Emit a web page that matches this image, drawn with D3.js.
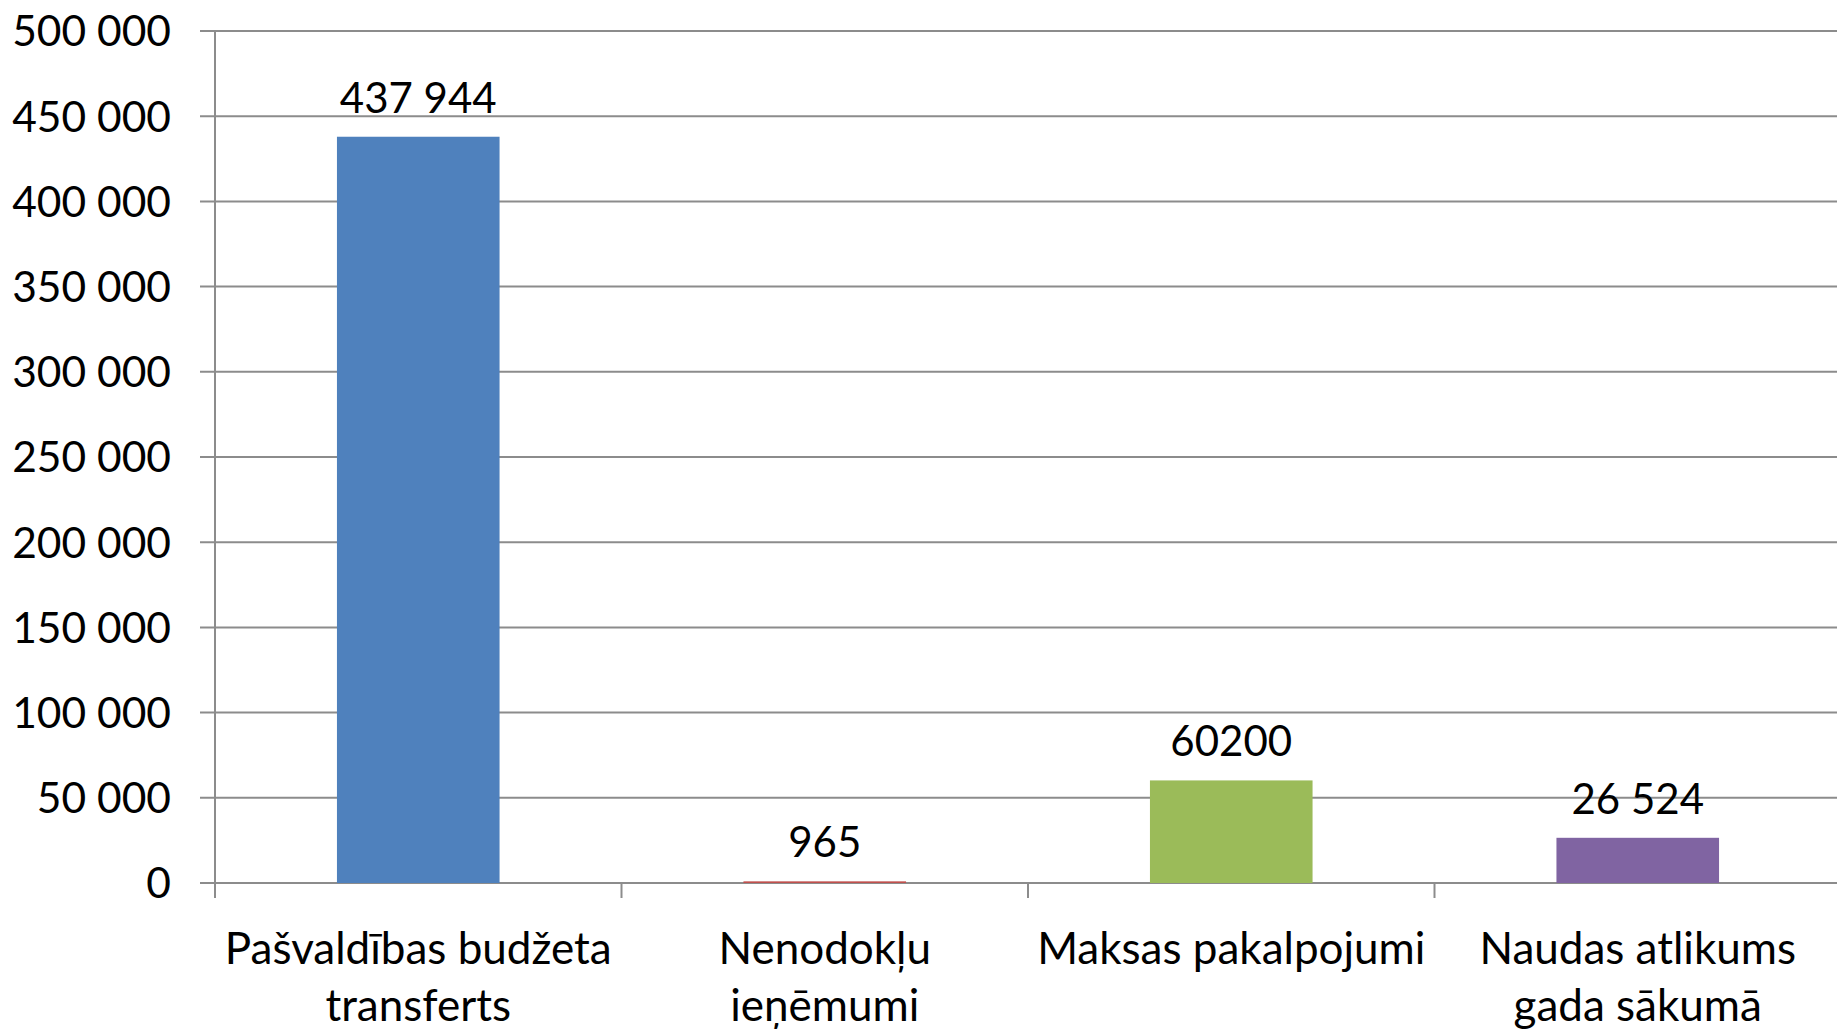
<!DOCTYPE html>
<html>
<head>
<meta charset="utf-8">
<script src="https://cdn.jsdelivr.net/npm/d3@7"></script>
<style>
  body { margin: 0; background: #fff; overflow: hidden; }
  text { font-family: Lato, "Open Sans", sans-serif; fill: #000; }
</style>
</head>
<body>
<script>
var categories = [["Pašvaldības budžeta", "transferts"], ["Nenodokļu", "ieņēmumi"], ["Maksas pakalpojumi"], ["Naudas atlikums", "gada sākumā"]];
var values = [437944, 965, 60200, 26524];
var valueLabels = ["437 944", "965", "60200", "26 524"];
var colors = ["#4F81BD", "#C0504D", "#9BBB59", "#8064A2"];
var yTicks = [0, 50000, 100000, 150000, 200000, 250000, 300000, 350000, 400000, 450000, 500000];

var width = 1837, height = 1029;
var x0 = 215, x1 = 1841, yTop = 31, yZero = 883;

var svg = d3.select("body").append("svg")
    .attr("width", width)
    .attr("height", height);

var x = d3.scaleBand()
    .domain(d3.range(values.length))
    .range([x0, x1])
    .paddingInner(0.6)
    .paddingOuter(0.3);

var y = d3.scaleLinear()
    .domain([0, 500000])
    .range([yZero, yTop]);

var fmt = function(v){ return d3.format(",")(v).replace(/,/g, " "); };

// gridlines
svg.append("g").selectAll("line").data(yTicks).enter().append("line")
    .attr("x1", x0 - 15).attr("x2", width)
    .attr("y1", function(d){ return y(d); })
    .attr("y2", function(d){ return y(d); })
    .attr("stroke", "#8c8c8c")
    .attr("stroke-width", 2);

// y axis line
svg.append("line")
    .attr("x1", x0).attr("x2", x0)
    .attr("y1", yTop).attr("y2", yZero + 15)
    .attr("stroke", "#8c8c8c")
    .attr("stroke-width", 2);

// category ticks
var bounds = d3.range(values.length + 1).map(function(i){ return x0 + i * (x1 - x0) / values.length; });
svg.append("g").selectAll("line").data(bounds).enter().append("line")
    .attr("x1", function(d){ return d; }).attr("x2", function(d){ return d; })
    .attr("y1", yZero).attr("y2", yZero + 15)
    .attr("stroke", "#8c8c8c")
    .attr("stroke-width", 2);

// y labels
svg.append("g").selectAll("text").data(yTicks).enter().append("text")
    .attr("x", 171)
    .attr("y", function(d){ return y(d); })
    .attr("dy", "0.36em")
    .attr("text-anchor", "end")
    .style("font-size", "42.5px")
    .text(fmt);

// bars
svg.append("g").selectAll("rect").data(values).enter().append("rect")
    .attr("x", function(d, i){ return x(i); })
    .attr("width", x.bandwidth())
    .attr("y", function(d){ return y(d); })
    .attr("height", function(d){ return yZero - y(d); })
    .attr("fill", function(d, i){ return colors[i]; });

// value labels
svg.append("g").selectAll("text").data(values).enter().append("text")
    .attr("x", function(d, i){ return x(i) + x.bandwidth() / 2; })
    .attr("y", function(d){ return y(d) - 24; })
    .attr("text-anchor", "middle")
    .style("font-size", "42px")
    .text(function(d, i){ return valueLabels[i]; });

// category labels
var cat = svg.append("g").selectAll("text").data(categories).enter().append("text")
    .attr("text-anchor", "middle")
    .style("font-size", "44px");
cat.selectAll("tspan").data(function(d, i){ return d.map(function(s){ return {s: s, i: i}; }); })
  .enter().append("tspan")
    .attr("x", function(d){ return x(d.i) + x.bandwidth() / 2; })
    .attr("y", function(d, j){ return 964 + j * 57; })
    .text(function(d){ return d.s; });
</script>
</body>
</html>
